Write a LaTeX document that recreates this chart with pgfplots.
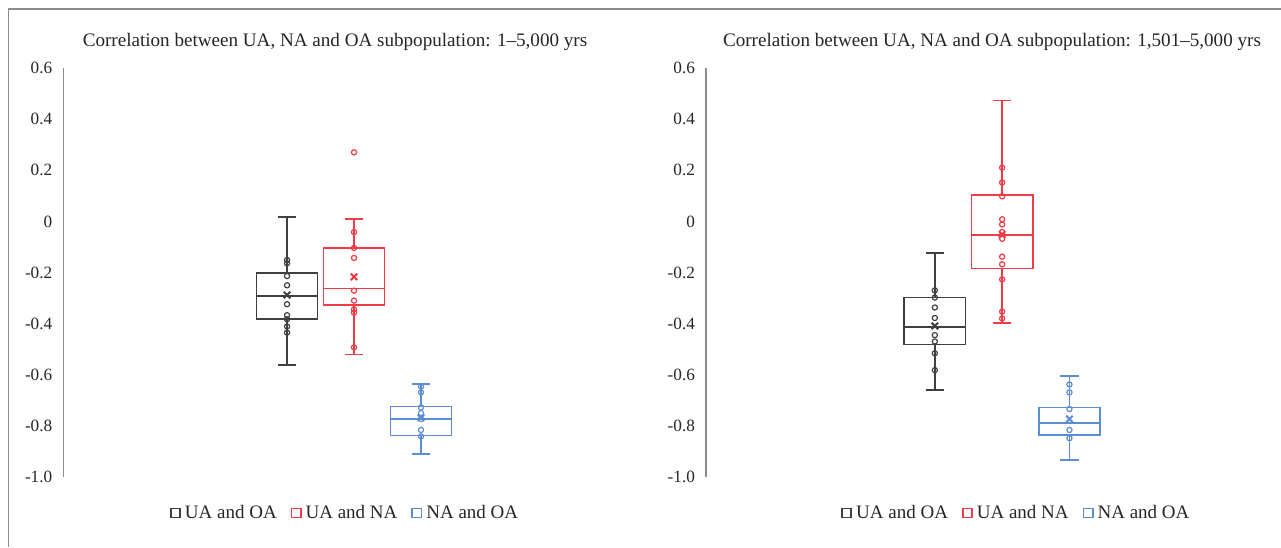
\documentclass[border=0pt]{standalone}
\usepackage{pgfplots}
\pgfplotsset{compat=1.18}
\usepackage{fontspec}
\setmainfont{Liberation Serif}
\definecolor{cblack}{RGB}{64,64,64}
\definecolor{cred}{RGB}{240,60,70}
\definecolor{cblue}{RGB}{92,140,210}
\definecolor{cgray}{RGB}{140,140,140}
\pgfplotsset{
  panel/.style={
    scale only axis, height=204.5pt,
    ymin=-1, ymax=0.6,
    ytick={-1,-0.8,-0.6,-0.4,-0.2,0,0.2,0.4,0.6},
    yticklabels={-1.0,-0.8,-0.6,-0.4,-0.2,0,0.2,0.4,0.6},
    axis x line=none, axis y line=left,
    axis line style={-, cgray, line width=0.7pt},
    major tick length=0pt,
    y tick label style={font=\fontsize{8.6}{10}\selectfont, text=black!85, xshift=-2pt},
    xtick=\empty,
    clip=false,
    legend columns=3,
    legend style={draw=none, fill=none, font=\fontsize{9.5}{11}\selectfont, text=black!85,
      /tikz/every even column/.append style={column sep=5pt}, anchor=center,
      inner sep=0pt},
    legend cell align=left,
  },
  bl/.style={forget plot, line width=0.85pt, line join=miter, mark=none},
  pts/.style={forget plot, only marks, mark=o, mark size=1.3pt, mark options={line width=0.6pt}},
  mn/.style={forget plot, only marks, mark=x, mark size=2.3pt, mark options={line width=1pt}},
  sq/.style={legend image code/.code={\draw[#1, line width=0.85pt, fill=white] (0pt,-2.3pt) rectangle (4.6pt,2.3pt);}},
}
% #1 colour, #2 left, #3 centre, #4 right, #5 lower whisker, #6 q1, #7 median, #8 q3, #9 upper whisker
\newcommand{\bxp}[9]{%
  \addplot[bl,#1] coordinates {(#2,#6)(#4,#6)(#4,#8)(#2,#8)(#2,#6)(#4,#6)};
  \addplot[bl,#1] coordinates {(#2,#7)(#4,#7)};
  \addplot[bl,#1,mark=-,mark size=4.6pt,mark options={solid}] coordinates {(#3,#8)(#3,#9)};
  \addplot[bl,#1,mark=-,mark size=4.6pt,mark options={solid}] coordinates {(#3,#6)(#3,#5)};
}
\begin{document}
\begin{tikzpicture}
\useasboundingbox (0,0) rectangle (640.5pt,273.5pt);
\draw[cgray, line width=0.75pt] (4.2pt,0) -- (4.2pt,269pt) -- (640.5pt,269pt);
\node[font=\fontsize{9.55}{11}\selectfont, text=black!85] at (167.5pt,252.5pt) {Correlation between UA, NA and OA subpopulation: 1--5,000 yrs};
\node[font=\fontsize{9.55}{11}\selectfont, text=black!85] at (496pt,252.5pt) {Correlation between UA, NA and OA subpopulation: 1,501--5,000 yrs};

% Left panel
\begin{axis}[panel, at={(31.65pt,35pt)}, anchor=south west, width=280pt,
  xmin=-2.34, xmax=6.02,
  legend style={at={(0.505,-0.088)}}]
\addlegendimage{sq=cblack}\addlegendentry{UA and OA}
\addlegendimage{sq=cred}\addlegendentry{UA and NA}
\addlegendimage{sq=cblue}\addlegendentry{NA and OA}
\bxp{cblack}{0.545}{1}{1.455}{-0.561}{-0.383}{-0.292}{-0.203}{0.018}
\bxp{cred}{1.545}{2}{2.455}{-0.521}{-0.328}{-0.263}{-0.103}{0.008}
\bxp{cblue}{2.545}{3}{3.455}{-0.910}{-0.838}{-0.773}{-0.724}{-0.637}
\addplot[pts, cblack] coordinates {(1,-0.151)(1,-0.164)(1,-0.214)(1,-0.250)(1,-0.324)(1,-0.367)(1,-0.383)(1,-0.411)(1,-0.435)};
\addplot[pts, cred] coordinates {(2,0.27)(2,-0.042)(2,-0.104)(2,-0.143)(2,-0.271)(2,-0.310)(2,-0.344)(2,-0.357)(2,-0.493)};
\addplot[pts, cblue] coordinates {(3,-0.646)(3,-0.669)(3,-0.728)(3,-0.750)(3,-0.773)(3,-0.816)(3,-0.841)};
\addplot[mn, cblack] coordinates {(1,-0.288)};
\addplot[mn, cred] coordinates {(2,-0.217)};
\addplot[mn, cblue] coordinates {(3,-0.768)};
\end{axis}

% Right panel
\begin{axis}[panel, at={(353pt,35pt)}, anchor=south west, width=282pt,
  xmin=-2.40, xmax=5.98,
  legend style={at={(0.552,-0.088)}}]
\addlegendimage{sq=cblack}\addlegendentry{UA and OA}
\addlegendimage{sq=cred}\addlegendentry{UA and NA}
\addlegendimage{sq=cblue}\addlegendentry{NA and OA}
\bxp{cblack}{0.545}{1}{1.455}{-0.660}{-0.482}{-0.413}{-0.298}{-0.124}
\bxp{cred}{1.545}{2}{2.455}{-0.398}{-0.184}{-0.053}{0.102}{0.473}
\bxp{cblue}{2.545}{3}{3.455}{-0.934}{-0.835}{-0.790}{-0.728}{-0.605}
\addplot[pts, cblack] coordinates {(1,-0.270)(1,-0.298)(1,-0.337)(1,-0.378)(1,-0.445)(1,-0.470)(1,-0.516)(1,-0.582)};
\addplot[pts, cred] coordinates {(2,0.210)(2,0.152)(2,0.098)(2,0.008)(2,-0.012)(2,-0.042)(2,-0.068)(2,-0.138)(2,-0.168)(2,-0.227)(2,-0.353)(2,-0.380)};
\addplot[pts, cblue] coordinates {(3,-0.638)(3,-0.669)(3,-0.734)(3,-0.816)(3,-0.848)};
\addplot[mn, cblack] coordinates {(1,-0.409)};
\addplot[mn, cred] coordinates {(2,-0.051)};
\addplot[mn, cblue] coordinates {(3,-0.773)};
\end{axis}
\end{tikzpicture}
\end{document}
